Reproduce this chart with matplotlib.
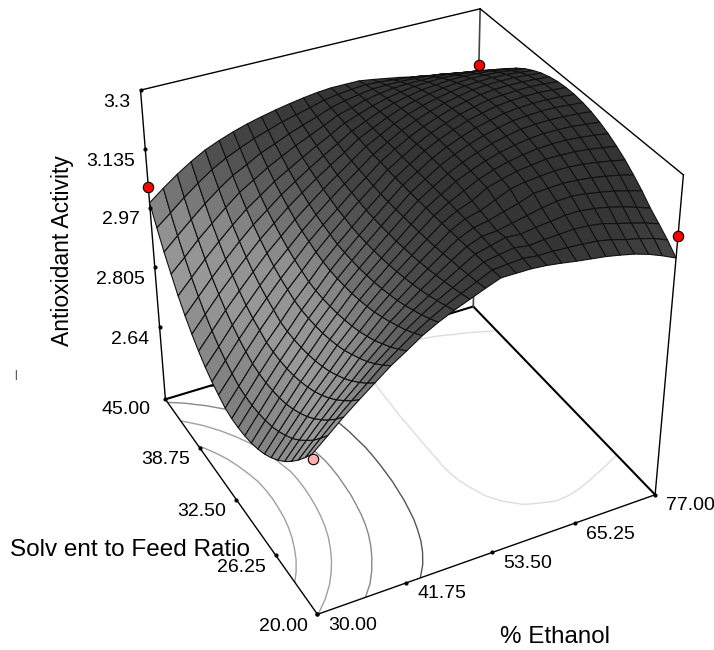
import numpy as np
import matplotlib
matplotlib.use('Agg')
import matplotlib.pyplot as plt
from mpl_toolkits.mplot3d import proj3d

plt.rcParams['font.family'] = ['Liberation Sans', 'DejaVu Sans']

# values
ethanol = [30 + 47 * i / 24 for i in range(25)]
solvent = [20 + 25 * j / 24 for j in range(25)]
x_ticks = [30.00, 41.75, 53.50, 65.25, 77.00]
y_ticks = [20.00, 26.25, 32.50, 38.75, 45.00]
z_labels = ['2.64', '2.805', '2.97', '3.135', '3.3']
z_tick_pos = [2.682, 2.848, 3.005, 3.155, 3.3]  # where the ticks sit on the drawn box
z_floor = 2.475
levels = [2.8, 2.9, 3.0, 3.1, 3.2]
level_colors = ['#a0a0a0', '#a0a0a0', '#888888', '#555555', '#dddddd']

design_x = [30, 77, 77, 30]
design_y = [45, 45, 20, 20]
design_z = [3.058, 3.155, 3.156, 2.885]
design_c = ['#ff0000', '#ff0000', '#ff0000', '#ffb0b0']

# rows: ethanol, columns: solvent
activity = np.array([
 [2.898,2.864,2.833,2.805,2.780,2.759,2.741,2.726,2.715,2.707,2.702,2.700,2.701,2.706,2.718,2.731,2.748,2.769,2.793,2.821,2.853,2.890,2.928,2.972,3.018],
 [2.931,2.900,2.871,2.846,2.823,2.803,2.787,2.773,2.762,2.755,2.750,2.748,2.749,2.753,2.764,2.777,2.792,2.812,2.835,2.861,2.891,2.924,2.961,3.001,3.046],
 [2.964,2.935,2.909,2.886,2.865,2.847,2.832,2.819,2.809,2.802,2.798,2.796,2.797,2.801,2.811,2.823,2.838,2.856,2.877,2.901,2.929,2.960,2.993,3.031,3.072],
 [2.994,2.968,2.945,2.924,2.905,2.889,2.875,2.864,2.855,2.848,2.844,2.842,2.843,2.846,2.856,2.866,2.879,2.896,2.916,2.938,2.964,2.992,3.024,3.058,3.095],
 [3.023,2.999,2.978,2.959,2.942,2.928,2.915,2.905,2.897,2.891,2.887,2.885,2.885,2.888,2.898,2.908,2.920,2.935,2.953,2.974,2.997,3.023,3.052,3.083,3.115],
 [3.052,3.031,3.012,2.995,2.981,2.968,2.956,2.947,2.940,2.934,2.931,2.929,2.929,2.932,2.940,2.948,2.959,2.973,2.989,3.007,3.028,3.052,3.077,3.103,3.130],
 [3.076,3.058,3.041,3.027,3.013,3.002,2.992,2.984,2.978,2.973,2.970,2.968,2.968,2.970,2.977,2.985,2.994,3.006,3.020,3.035,3.053,3.074,3.095,3.119,3.143],
 [3.101,3.085,3.071,3.059,3.048,3.038,3.029,3.022,3.017,3.012,3.010,3.008,3.008,3.010,3.015,3.022,3.029,3.039,3.051,3.064,3.079,3.096,3.115,3.134,3.154],
 [3.121,3.108,3.096,3.086,3.076,3.068,3.061,3.055,3.050,3.047,3.044,3.043,3.043,3.044,3.049,3.054,3.060,3.068,3.078,3.088,3.100,3.115,3.129,3.146,3.163],
 [3.138,3.128,3.119,3.110,3.103,3.096,3.091,3.086,3.082,3.079,3.077,3.076,3.076,3.077,3.081,3.084,3.090,3.096,3.104,3.112,3.121,3.133,3.145,3.158,3.171],
 [3.153,3.146,3.139,3.133,3.128,3.123,3.119,3.115,3.113,3.110,3.109,3.108,3.108,3.109,3.112,3.115,3.118,3.122,3.128,3.134,3.141,3.149,3.158,3.167,3.178],
 [3.168,3.163,3.159,3.155,3.152,3.149,3.146,3.144,3.142,3.141,3.140,3.139,3.139,3.139,3.141,3.143,3.145,3.148,3.151,3.155,3.160,3.165,3.170,3.176,3.184],
 [3.182,3.180,3.178,3.177,3.175,3.174,3.173,3.172,3.171,3.171,3.170,3.170,3.170,3.170,3.171,3.172,3.172,3.174,3.176,3.177,3.180,3.182,3.184,3.186,3.189],
 [3.182,3.183,3.185,3.186,3.189,3.190,3.192,3.192,3.193,3.193,3.193,3.193,3.193,3.193,3.193,3.194,3.193,3.193,3.193,3.193,3.193,3.192,3.193,3.192,3.192],
 [3.182,3.186,3.191,3.196,3.192,3.197,3.201,3.206,3.211,3.215,3.215,3.216,3.216,3.216,3.215,3.214,3.213,3.212,3.210,3.208,3.205,3.203,3.199,3.196,3.192],
 [3.179,3.182,3.186,3.193,3.200,3.208,3.217,3.227,3.229,3.231,3.233,3.234,3.234,3.234,3.233,3.231,3.229,3.227,3.224,3.220,3.215,3.210,3.205,3.199,3.192],
 [3.174,3.182,3.190,3.199,3.208,3.218,3.233,3.238,3.242,3.245,3.247,3.249,3.249,3.249,3.247,3.245,3.242,3.239,3.234,3.228,3.222,3.215,3.206,3.197,3.187],
 [3.168,3.180,3.192,3.203,3.216,3.232,3.240,3.247,3.252,3.256,3.259,3.261,3.262,3.262,3.260,3.257,3.253,3.248,3.242,3.235,3.227,3.217,3.206,3.194,3.181],
 [3.163,3.178,3.194,3.208,3.222,3.234,3.244,3.252,3.259,3.264,3.268,3.270,3.271,3.271,3.269,3.266,3.261,3.255,3.248,3.239,3.229,3.217,3.205,3.190,3.175],
 [3.158,3.175,3.192,3.208,3.224,3.236,3.247,3.257,3.264,3.270,3.275,3.278,3.279,3.279,3.277,3.273,3.268,3.261,3.252,3.242,3.231,3.217,3.202,3.186,3.168],
 [3.151,3.168,3.187,3.204,3.220,3.234,3.247,3.257,3.266,3.273,3.278,3.281,3.283,3.283,3.280,3.277,3.271,3.263,3.254,3.243,3.230,3.215,3.199,3.180,3.160],
 [3.143,3.158,3.177,3.197,3.214,3.230,3.244,3.256,3.266,3.273,3.279,3.283,3.285,3.285,3.282,3.278,3.272,3.264,3.254,3.241,3.227,3.211,3.193,3.173,3.151],
 [3.132,3.150,3.168,3.188,3.207,3.224,3.239,3.252,3.263,3.272,3.278,3.283,3.285,3.285,3.283,3.278,3.272,3.263,3.252,3.239,3.224,3.206,3.187,3.165,3.141],
 [3.118,3.140,3.158,3.177,3.198,3.217,3.233,3.247,3.259,3.268,3.276,3.280,3.283,3.283,3.281,3.276,3.269,3.260,3.248,3.234,3.218,3.199,3.178,3.154,3.129],
 [3.102,3.126,3.146,3.165,3.188,3.208,3.226,3.241,3.254,3.264,3.272,3.277,3.280,3.280,3.278,3.273,3.266,3.256,3.244,3.229,3.212,3.192,3.170,3.145,3.118],
])

W, H = 714, 650
x0, x1 = ethanol[0], ethanol[-1]
y0, y1 = solvent[0], solvent[-1]
z0, z1 = z_floor, z_tick_pos[-1]

fig = plt.figure(figsize=(W / 100, H / 100), dpi=100)
ax = fig.add_axes([37.1 / W, 19.8 / H, 1, 1], projection='3d', computed_zorder=False)
ax.set_axis_off()
ax.set_xlim(x0, x1, view_margin=0)
ax.set_ylim(y0, y1, view_margin=0)
ax.set_zlim(z0, z1, view_margin=0)
ax.view_init(elev=34.40, azim=-117.56)
ax.set_proj_type('persp', focal_length=0.595)
ax.set_box_aspect((1, 0.997, 0.996), zoom=0.985)

X, Y = np.meshgrid(ethanol, solvent, indexing='ij')
Z = activity

# lower parts of the surface are lighter
grey = np.interp(Z, [2.70, 2.85, 2.95, 3.02, 3.10, 3.18, 3.25], [0.50, 0.60, 0.56, 0.42, 0.28, 0.21, 0.20])
colors = np.dstack((grey, grey, grey, np.ones_like(grey)))

# floor and contours
ax.contour(X, Y, Z, levels=levels, zdir='z', offset=z0, colors=level_colors, linewidths=1, zorder=1)
ax.plot([x0, x1], [y0, y0], [z0, z0], color='k', lw=1, zorder=1)
ax.plot([x0, x0], [y0, y1], [z0, z0], color='k', lw=1, zorder=1)
ax.plot([x0, x1], [y1, y1], [z0, z0], color='k', lw=1.5, zorder=1)
ax.plot([x1, x1], [y0, y1], [z0, z0], color='k', lw=1.5, zorder=1)
ax.plot([x0, x0], [y1, y1], [z0, z1], color='k', lw=1, zorder=1)
ax.plot([x1, x1], [y1, y1], [z0, z1], color='#444444', lw=1.2, zorder=1)
ax.plot([x1, x1], [y0, y0], [z0, z1], color='k', lw=1, zorder=1)
ax.plot([x0, x1], [y1, y1], [z1, z1], color='k', lw=1, zorder=1)
ax.plot([x1, x1], [y1, y0], [z1, z1], color='k', lw=1, zorder=1)

ax.plot_surface(X, Y, Z, facecolors=colors, rstride=1, cstride=1, shade=False,
                edgecolor='#111111', linewidth=0.8, zorder=2)

for dx, dy, dz, dc in zip(design_x, design_y, design_z, design_c):
    ax.plot([dx], [dy], [dz], 'o', color=dc, mec='k', mew=0.8, ms=7.5, zorder=3)


def label(xx, yy, zz, txt, off, ha):
    a, b, _ = proj3d.proj_transform(xx, yy, zz, ax.get_proj())
    ax.plot([xx], [yy], [zz], 'o', color='k', ms=2, zorder=3)
    ax.annotate(txt, (a, b), xytext=off, textcoords='offset pixels', ha=ha, va='center',
                fontsize=14, annotation_clip=False)


for v in x_ticks:
    label(v, y0, z0, '%.2f' % v, (11, -11), 'left')
for v in y_ticks:
    off = (-15, -10) if v == y_ticks[-1] else (-10, -12)
    label(x0, v, z0, '%.2f' % v, off, 'right')
for v, txt in zip(z_tick_pos, z_labels):
    label(x0, y1, v, txt, (-10, -12), 'right')

fig.text(62 / W, 1 - 251 / H, 'Antioxidant Activity', rotation=90, fontsize=16.5, ha='center', va='center')
fig.text(10 / W, 1 - 550 / H, 'Solv ent to Feed Ratio', fontsize=17.5, ha='left', va='center')
fig.text(555 / W, 1 - 637 / H, '% Ethanol', fontsize=17.4, ha='center', va='center')
fig.text(15 / W, 1 - 375 / H, '|', fontsize=7, ha='center', va='center')

fig.savefig('out.png', dpi=100)
